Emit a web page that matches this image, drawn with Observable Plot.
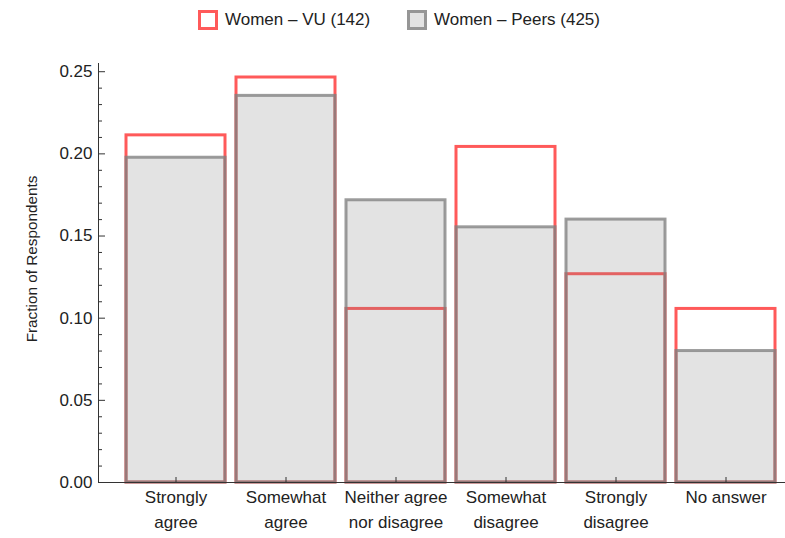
<!DOCTYPE html>
<html>
<head>
<meta charset="utf-8">
<script src="https://cdn.jsdelivr.net/npm/d3@7"></script>
<script src="https://cdn.jsdelivr.net/npm/@observablehq/plot@0.6"></script>
<style>
  html, body { margin: 0; padding: 0; background: #fff; }
  body { width: 785px; height: 538px; overflow: hidden; font-family: "Liberation Sans", Arial, sans-serif; }
  #legend { position: relative; height: 40px; font-size: 17px; color: #222; }
  .item { position: absolute; top: 10px; display: flex; align-items: center; height: 20px; }
  .sw { width: 14px; height: 14px; box-sizing: content-box; margin-right: 7px; }
</style>
</head>
<body>
<div id="legend"></div>
<div id="chart"></div>
<script>
const categories = ["Strongly agree", "Somewhat agree", "Neither agree nor disagree", "Somewhat disagree", "Strongly disagree", "No answer"];
const categoryLabels = ["Strongly\nagree", "Somewhat\nagree", "Neither agree\nnor disagree", "Somewhat\ndisagree", "Strongly\ndisagree", "No answer"];
const vuValues = [30/142, 35/142, 15/142, 29/142, 18/142, 15/142];
const peerValues = [84/425, 100/425, 73/425, 66/425, 68/425, 34/425];
const seriesNames = ["Women \u2013 VU (142)", "Women \u2013 Peers (425)"];
const majorTicks = [0, 0.05, 0.10, 0.15, 0.20, 0.25];
const minorTicks = d3.range(0, 26).map(i => i / 100).filter(v => Math.round(v * 100) % 5 !== 0);

const table = categories.map((c, i) => ({cat: c, label: categoryLabels[i], vu: vuValues[i], peers: peerValues[i]}));

const W = 785, H = 498, mL = 98, mR = 0, mT = 23, mB = 56;
const frameW = W - mL - mR, frameH = H - mT - mB;
const yTop = 0.255;
const red = "#ff5a5a";
const grayStroke = "rgb(128,128,128)";
const font = "'Liberation Sans', Arial, sans-serif";

// legend
const legend = document.getElementById("legend");
const lefts = [198, 407];
const sw = [
  `border:3px solid ${red}; background:#fff;`,
  `border:3px solid rgba(128,128,128,0.78); background:rgba(128,128,128,0.22);`
];
seriesNames.forEach((name, i) => {
  const d = document.createElement("div");
  d.className = "item";
  d.style.left = lefts[i] + "px";
  d.innerHTML = `<span class="sw" style="${sw[i]}"></span><span>${name}</span>`;
  legend.appendChild(d);
});

const plot = Plot.plot({
  width: W, height: H,
  marginLeft: mL, marginRight: mR, marginTop: mT, marginBottom: mB,
  style: {fontFamily: font, fontSize: "17px", color: "#222", background: "#fff"},
  x: {domain: categories, paddingInner: 0.103, paddingOuter: 0.163, align: 0.736, axis: null},
  y: {domain: [0, yTop], axis: null},
  marks: [
    Plot.barY(table, {x: "cat", y: "vu", fill: "none", stroke: red, strokeWidth: 3, inset: 0}),
    Plot.barY(table, {x: "cat", y: "peers", fill: grayStroke, fillOpacity: 0.22, stroke: grayStroke, strokeOpacity: 0.78, strokeWidth: 3, inset: 0}),
    // axes lines
    Plot.ruleY([0], {stroke: "#333", strokeWidth: 1}),
    Plot.frame({anchor: "left", stroke: "#333", strokeWidth: 1}),
    // y ticks
    Plot.ruleY(majorTicks, {y: d => d, insetRight: frameW - 7, stroke: "#333", strokeWidth: 1}),
    Plot.ruleY(minorTicks, {y: d => d, insetRight: frameW - 4, stroke: "#333", strokeWidth: 1}),
    Plot.text(majorTicks, {y: d => d, frameAnchor: "left", textAnchor: "end", dx: -6, text: d => d.toFixed(2), fontSize: 17, fill: "#222"}),
    // x ticks
    Plot.ruleX(table, {x: "cat", y1: yTop, y2: 0, insetTop: frameH - 5, stroke: "#333", strokeWidth: 1}),
    Plot.text(table, {x: "cat", frameAnchor: "bottom", lineAnchor: "top", dy: 3, lineHeight: 1.47, text: "label", fontSize: 17, fill: "#222"}),
    // y label
    Plot.text(["Fraction of Respondents"], {frameAnchor: "left", textAnchor: "middle", rotate: -90, dx: -66, dy: -14, text: d => d, fontSize: 15.3, fill: "#222"})
  ]
});
document.getElementById("chart").appendChild(plot);
</script>
</body>
</html>
